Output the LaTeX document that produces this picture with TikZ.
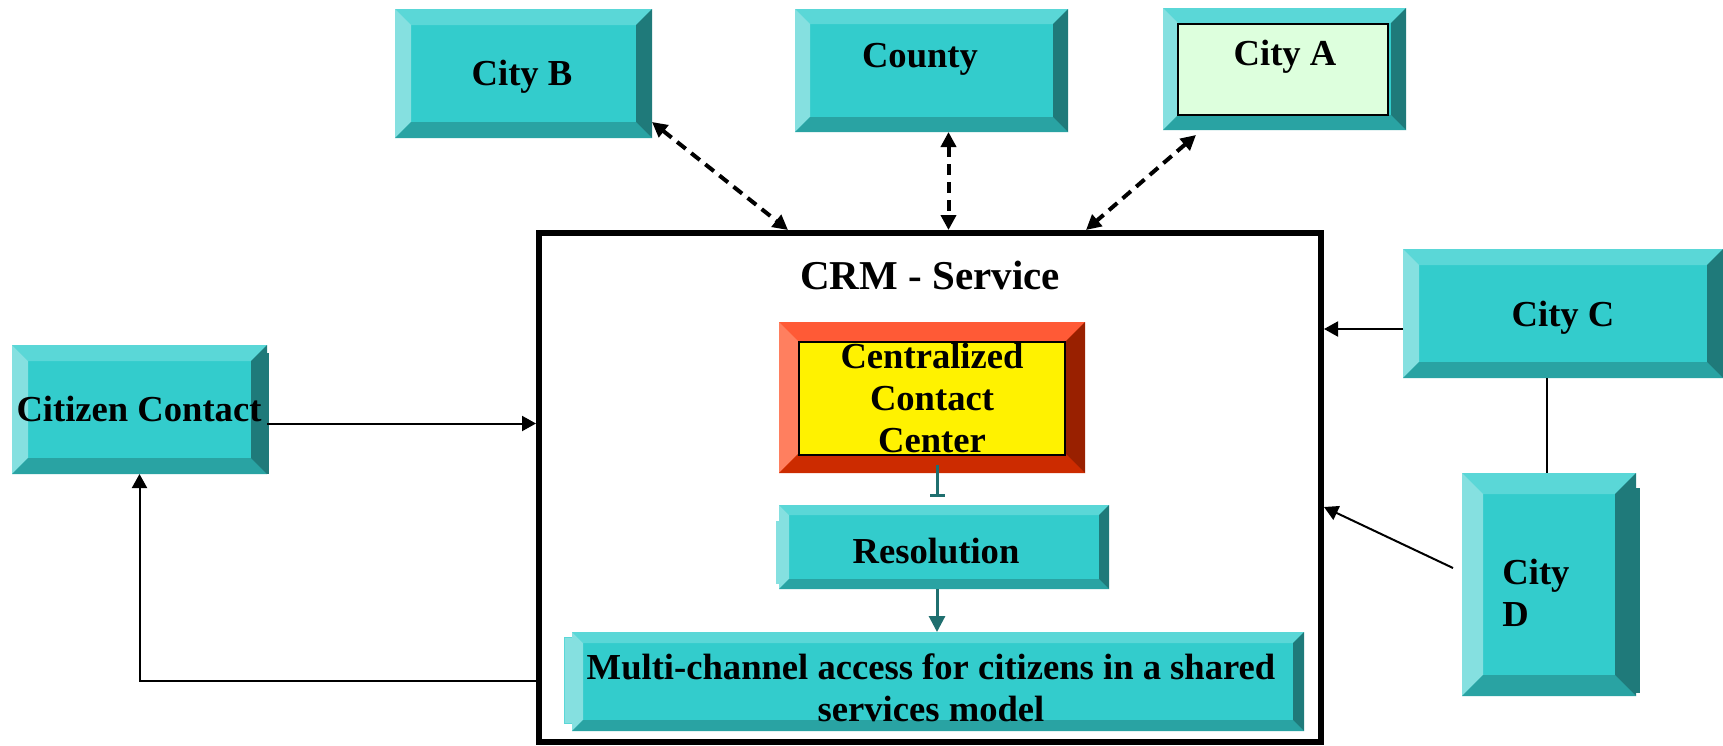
\documentclass[tikz,border=0pt]{standalone}
\usepackage{fontspec}
\setmainfont{Liberation Serif}
\usetikzlibrary{arrows.meta,fit,calc}
\definecolor{tealF}{HTML}{33CCCC}
\definecolor{tealT}{HTML}{5AD7D7}
\definecolor{tealL}{HTML}{85E0E0}
\definecolor{tealB}{HTML}{29A3A3}
\definecolor{tealR}{HTML}{1F7A7A}
\definecolor{tealA}{HTML}{1F6F6F}
\definecolor{redF}{HTML}{FF3300}
\definecolor{redT}{HTML}{FF5A36}
\definecolor{redL}{HTML}{FF7F5F}
\definecolor{redB}{HTML}{CC2B00}
\definecolor{redR}{HTML}{992000}
\definecolor{mint}{HTML}{DDFFDD}
\newcommand\bevelpp[5]{%
 \fill[#2] (path picture bounding box.north west) -- (path picture bounding box.north east) -- ([shift={(-#1,-#1)}]path picture bounding box.north east) -- ([shift={(#1,-#1)}]path picture bounding box.north west) -- cycle;
 \fill[#3] (path picture bounding box.north west) -- ([shift={(#1,-#1)}]path picture bounding box.north west) -- ([shift={(#1,#1)}]path picture bounding box.south west) -- (path picture bounding box.south west) -- cycle;
 \fill[#4] (path picture bounding box.south west) -- ([shift={(#1,#1)}]path picture bounding box.south west) -- ([shift={(-#1,#1)}]path picture bounding box.south east) -- (path picture bounding box.south east) -- cycle;
 \fill[#5] (path picture bounding box.south east) -- ([shift={(-#1,#1)}]path picture bounding box.south east) -- ([shift={(-#1,-#1)}]path picture bounding box.north east) -- (path picture bounding box.north east) -- cycle;}
\tikzset{
 tealbox/.style={inner sep=0pt, outer sep=0pt, fill=tealF, path picture={\bevelpp{#1}{tealT}{tealL}{tealB}{tealR}}},
 redbox/.style={inner sep=0pt, outer sep=0pt, fill=redF, path picture={\bevelpp{#1}{redT}{redL}{redB}{redR}}},
 shadowbox/.style={inner sep=0pt, outer sep=0pt, fill=#1},
 lbl/.style={inner sep=0pt, font=\fontsize{18.3pt}{21pt}\selectfont\bfseries},
 arr/.style={draw=black, line width=1pt, -{Triangle[length=7pt,width=7.5pt]}},
 darr/.style={draw=black, line width=2pt, dash pattern=on 5.5pt off 3.5pt, {Triangle[length=7.5pt,width=7.5pt]}-{Triangle[length=7.5pt,width=7.5pt]}},
 tarr/.style={draw=tealA, line width=1.5pt},
}
\begin{document}
\begin{tikzpicture}[x=0.5pt,y=-0.5pt]
\useasboundingbox (0,0) rectangle (1723,745);
% CRM frame
\node[draw, line width=3pt, inner sep=0pt, fit={(539,233)(1321,742)}] (crm) {};
\node[lbl, font=\fontsize{20.5pt}{24pt}\selectfont\bfseries, anchor=base] (crm-t) at (930,289) {CRM - Service};
% top boxes
\node[tealbox=8pt, fit={(395,9)(652,138)}] (cB) {};
\node[lbl, anchor=base] (cB-t) at (522,85) {City B};
\node[tealbox=7.5pt, fit={(795,9)(1068,132)}] (co) {};
\node[lbl, anchor=base] (co-t) at (920,67) {County};
\node[tealbox=7.5pt, fit={(1163,8)(1406,130)}] (cA) {};
\node[draw, line width=1pt, fill=mint, inner sep=0pt, fit={(1178,24)(1388,115)}] (cA-in) {};
\node[lbl, anchor=base] (cA-t) at (1285,65) {City A};
% citizen contact
\node[shadowbox=tealR, fit={(262,353)(269,474)}] (cz-sh) {};
\node[tealbox=8pt, fit={(12,345)(267,474)}] (cz) {};
\node[lbl, anchor=base] (cz-t) at (139,421) {Citizen Contact};
% City C and D
\node[tealbox=8pt, fit={(1403,249)(1723,378)}] (cC) {};
\node[lbl, anchor=base] (cC-t) at (1563,326) {City C};
\node[shadowbox=tealR, fit={(1620,488)(1640,693)}] (cD-sh) {};
\node[tealbox=10.5pt, fit={(1462,473)(1636,696)}] (cD) {};
\node[lbl, anchor=west, align=left] (cD-t) at (1502,593) {City\\D};
% centralized contact center
\node[redbox=10pt, fit={(779,322)(1085,473)}] (ccc) {};
\node[draw, line width=1pt, fill=yellow, inner sep=0pt, fit={(799,342)(1065,455)}] (ccc-in) {};
\node[lbl, align=center] (ccc-t) at (932,398) {Centralized\\Contact\\Center};
% resolution
\node[shadowbox=tealL, fit={(776,521)(781,584)}] (res-sh) {};
\node[tealbox=5pt, fit={(779,505)(1109,589)}] (res) {};
\node[lbl, anchor=base] (res-t) at (936,563) {Resolution};
% multi-channel
\node[draw=tealT, line width=0.5pt, shadowbox=tealL, fit={(564,637)(576,723)}] (mc-sh) {};
\node[tealbox=5.5pt, fit={(572,632)(1304,731)}] (mc) {};
\node[lbl, align=center] (mc-t) at (931,688) {Multi-channel access for citizens in a shared\\services model};
% connectors
\draw[darr] ([yshift=8pt]cB.south east) -- ([xshift=126pt]crm.north west);
\draw[darr] ([xshift=8.5pt]co.south) -- ([xshift=8.5pt]co.south |- crm.north);
\draw[darr] ([xshift=16.5pt,yshift=-2.5pt]cA.south west) -- ([xshift=275pt]crm.north west);
\draw[arr] ([yshift=-7pt]cz.east) -- ([yshift=-7pt]cz.east -| crm.west);
\draw[arr] ([yshift=-96.75pt]crm.west) -| (cz.south);
\draw[arr] ([yshift=-7.75pt]cC.west) -- ([yshift=-7.75pt]cC.west -| crm.east);
\draw[line width=1pt] ([xshift=-8pt]cC.south) -- ([xshift=-8pt]cC.south |- cD.north);
\draw[arr] ([xshift=-4.5pt,yshift=8.25pt]cD.west) -- ([yshift=-9.75pt]crm.east);
\draw[tarr, -{Bar[width=7.5pt]}] ([xshift=2.5pt,yshift=4pt]ccc.south) -- ([xshift=2.5pt,yshift=4pt]ccc.south |- res.north);
\draw[tarr, -{Triangle[length=8pt,width=8pt]}] ([xshift=-3.5pt]res.south) -- ([xshift=-3.5pt]res.south |- mc.north);
\end{tikzpicture}
\end{document}
